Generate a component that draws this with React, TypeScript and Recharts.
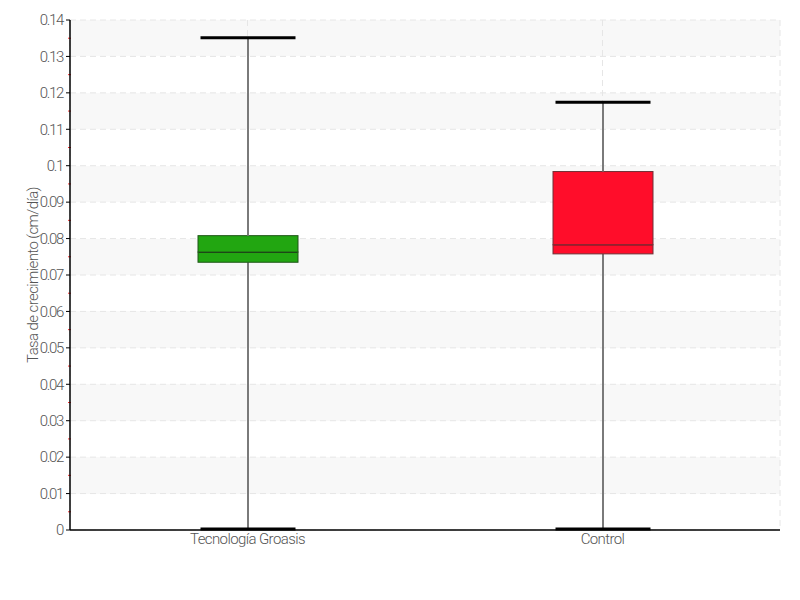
import React from "react";
import {
  ComposedChart,
  Bar,
  XAxis,
  YAxis,
  CartesianGrid,
  ReferenceLine,
} from "recharts";

const categories = ["Tecnología Groasis", "Control"];
const mins = [0.0003, 0.0003];
const q1s = [0.0735, 0.0758];
const medians = [0.0763, 0.0783];
const q3s = [0.0808, 0.0984];
const maxs = [0.1351, 0.1174];

const yTicks = [0, 0.01, 0.02, 0.03, 0.04, 0.05, 0.06, 0.07, 0.08, 0.09, 0.1, 0.11, 0.12, 0.13, 0.14];
const yMinorTicks = [0.005, 0.015, 0.025, 0.035, 0.045, 0.055, 0.065, 0.075, 0.085, 0.095, 0.105, 0.115, 0.125, 0.135];

const boxFills = ["#22a611", "#ff0d2a"];
const boxStrokes = ["#1f5518", "#6e3036"];
const medianStrokes = ["#1a1a1a", "#7c0012"];

const FONT = "Roboto, 'DejaVu Sans', sans-serif";
const TEXT = "#555";
const yTickStyle = { fill: TEXT, fontSize: 15, fontWeight: 300, letterSpacing: -1.3 };
const textStyle = { fill: TEXT, fontSize: 15, fontWeight: 300, letterSpacing: -0.6 };

const data = categories.map((name, i) => ({
  name,
  base: mins[i],
  lowWhisker: q1s[i] - mins[i],
  lowBox: medians[i] - q1s[i],
  highBox: q3s[i] - medians[i],
  highWhisker: maxs[i] - q3s[i],
}));

const LowWhisker = (props: any) => {
  const { x, y, width, height } = props;
  const cx = x + width / 2;
  return (
    <g>
      <line x1={cx} x2={cx} y1={y} y2={y + height} stroke="#7a7a7a" strokeWidth={2} />
      <line x1={x + 2.5} x2={x + width - 2.5} y1={y + height} y2={y + height} stroke="#000" strokeWidth={3} />
    </g>
  );
};

const HighWhisker = (props: any) => {
  const { x, y, width, height } = props;
  const cx = x + width / 2;
  return (
    <g>
      <line x1={cx} x2={cx} y1={y} y2={y + height} stroke="#7a7a7a" strokeWidth={2} />
      <line x1={x + 2.5} x2={x + width - 2.5} y1={y} y2={y} stroke="#000" strokeWidth={3} />
    </g>
  );
};

const LowBox = (props: any) => {
  const { x, y, width, height, index } = props;
  return (
    <g>
      <rect x={x} y={y} width={width} height={height} fill={boxFills[index]} stroke={boxStrokes[index]} strokeWidth={1} />
      <line x1={x + 1} x2={x + width - 1} y1={y} y2={y} stroke={medianStrokes[index]} strokeWidth={1.2} />
    </g>
  );
};

const HighBox = (props: any) => {
  const { x, y, width, height, index } = props;
  return (
    <rect x={x} y={y} width={width} height={height} fill={boxFills[index]} stroke={boxStrokes[index]} strokeWidth={1} />
  );
};

const MinorTick = (props: any) => {
  const { x1, y1 } = props;
  return <line x1={x1 - 2} x2={x1 + 1} y1={y1} y2={y1} stroke="#ff3030" strokeWidth={1} />;
};

const fmt = (v: number) => String(Number(v.toFixed(3)));

export default function App() {
  return (
    <div style={{ position: "absolute", left: 0, top: 0 }}>
      <ComposedChart
        width={800}
        height={600}
        data={data}
        margin={{ top: 20, right: 20, left: 8, bottom: 40 }}
        barSize={100}
        style={{ fontFamily: FONT }}
      >
        <CartesianGrid
          stroke="#e6e6e6"
          strokeDasharray="6 4"
          horizontalFill={["#f8f8f8", "#ffffff"]}
        />
        <YAxis
          width={62}
          type="number"
          domain={[0, 0.14]}
          ticks={yTicks}
          interval={0}
          tickFormatter={fmt}
          axisLine={{ stroke: "#000", strokeWidth: 1.5 }}
          tickLine={{ stroke: "#000" }}
          tickSize={4}
          tickMargin={3}
          tick={yTickStyle}
          label={{
            value: "Tasa de crecimiento (cm/día)",
            angle: -90,
            position: "insideLeft",
            offset: 25,
            style: { ...textStyle, textAnchor: "middle" },
          }}
        />
        <XAxis
          dataKey="name"
          axisLine={{ stroke: "#000", strokeWidth: 1.5 }}
          tickLine={false}
          tickSize={0}
          tickMargin={3}
          height={30}
          tick={textStyle}
        />
        {yMinorTicks.map((v) => (
          <ReferenceLine key={v} y={v} shape={MinorTick} ifOverflow="visible" />
        ))}
        <Bar dataKey="base" stackId="b" fill="none" isAnimationActive={false} />
        <Bar dataKey="lowWhisker" stackId="b" shape={LowWhisker} isAnimationActive={false} />
        <Bar dataKey="lowBox" stackId="b" shape={LowBox} isAnimationActive={false} />
        <Bar dataKey="highBox" stackId="b" shape={HighBox} isAnimationActive={false} />
        <Bar dataKey="highWhisker" stackId="b" shape={HighWhisker} isAnimationActive={false} />
      </ComposedChart>
    </div>
  );
}
